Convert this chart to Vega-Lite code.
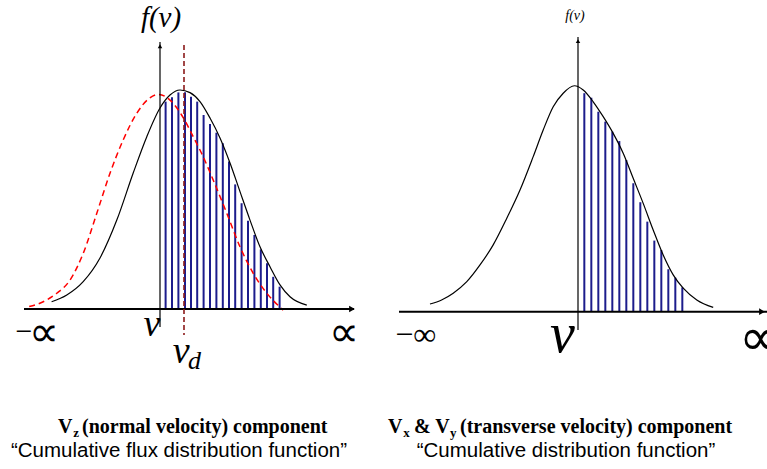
{
  "$schema": "https://vega.github.io/schema/vega-lite/v6.json",
  "background": "white",
  "padding": 0,
  "spacing": 0,
  "bounds": "flush",
  "config": {"view": {"stroke": null}},
  "datasets": {
    "L_curve": [
      {"v": -2.71, "f": 0.033}, {"v": -2.33, "f": 0.064}, {"v": -1.92, "f": 0.125}, {"v": -1.5, "f": 0.233},
      {"v": -1.08, "f": 0.406}, {"v": -0.67, "f": 0.621}, {"v": -0.33, "f": 0.787}, {"v": 0, "f": 0.918},
      {"v": 0.25, "f": 0.977}, {"v": 0.5, "f": 1.0}, {"v": 0.75, "f": 0.988}, {"v": 1.0, "f": 0.947},
      {"v": 1.25, "f": 0.872}, {"v": 1.5, "f": 0.781}, {"v": 1.75, "f": 0.667}, {"v": 2.0, "f": 0.536},
      {"v": 2.25, "f": 0.406}, {"v": 2.5, "f": 0.284}, {"v": 2.75, "f": 0.193}, {"v": 3.0, "f": 0.11},
      {"v": 3.25, "f": 0.056}, {"v": 3.67, "f": 0.018}
    ],
    "L_flux": [
      {"v": -3.27, "f": 0.011}, {"v": -2.92, "f": 0.033}, {"v": -2.58, "f": 0.072}, {"v": -2.25, "f": 0.132},
      {"v": -1.92, "f": 0.254}, {"v": -1.58, "f": 0.437}, {"v": -1.25, "f": 0.62}, {"v": -0.92, "f": 0.772},
      {"v": -0.58, "f": 0.894}, {"v": -0.29, "f": 0.959}, {"v": -0.04, "f": 0.98}, {"v": 0.25, "f": 0.954},
      {"v": 0.54, "f": 0.886}, {"v": 0.83, "f": 0.787}, {"v": 1.08, "f": 0.695}, {"v": 1.33, "f": 0.589},
      {"v": 1.67, "f": 0.437}, {"v": 2.0, "f": 0.284}, {"v": 2.33, "f": 0.163}, {"v": 2.67, "f": 0.072},
      {"v": 3.08, "f": -0.005}
    ],
    "L_bars": [
      {"v": 0.14, "f": 0.947}, {"v": 0.3, "f": 0.967}, {"v": 0.46, "f": 0.989}, {"v": 0.625, "f": 0.99},
      {"v": 0.775, "f": 0.969}, {"v": 0.93, "f": 0.947}, {"v": 1.09, "f": 0.886}, {"v": 1.25, "f": 0.845},
      {"v": 1.41, "f": 0.805}, {"v": 1.57, "f": 0.757}, {"v": 1.725, "f": 0.673}, {"v": 1.88, "f": 0.569},
      {"v": 2.04, "f": 0.483}, {"v": 2.2, "f": 0.403}, {"v": 2.36, "f": 0.338}, {"v": 2.52, "f": 0.272},
      {"v": 2.675, "f": 0.209}, {"v": 2.83, "f": 0.147}, {"v": 2.99, "f": 0.102}
    ],
    "L_haxis": [{"v": -3.4, "v2": 4.85, "f": 0}],
    "L_vaxis": [{"v": 0, "f": 1.219, "f2": -0.082}],
    "L_vd": [{"v": 0.6, "f": 1.205, "f2": -0.119}],
    "L_arrowR": [{"v": 4.8, "f": 0}],
    "L_arrowU": [{"v": 0, "f": 1.2}],
    "L_fv": [{"v": 0.025, "f": 1.331, "t": "f(v)"}],
    "L_minus": [{"v": -3.4, "f": -0.105, "t": "−"}],
    "L_prop": [{"v": -2.9, "f": -0.11, "t": "∝"}, {"v": 4.6, "f": -0.11, "t": "∝"}],
    "L_v": [{"v": -0.2, "f": -0.073, "t": "v"}, {"v": 0.53, "f": -0.196, "t": "v"}],
    "L_d": [{"v": 0.86, "f": -0.237, "t": "d"}],
    "L_cap1": [{"v": -2.55, "f": -0.539, "t": "V"}, {"v": -1.95, "f": -0.539, "t": "(normal velocity) component"}],
    "L_sub": [{"v": -2.17, "f": -0.568, "t": "z"}],
    "L_cap2": [{"v": 0.475, "f": -0.648, "t": "“Cumulative flux distribution function”"}],
    "R_curve": [
      {"v": -3.7, "f": 0.034}, {"v": -3.41, "f": 0.052}, {"v": -3.12, "f": 0.082}, {"v": -2.78, "f": 0.133},
      {"v": -2.45, "f": 0.207}, {"v": -2.12, "f": 0.296}, {"v": -1.78, "f": 0.414}, {"v": -1.45, "f": 0.539},
      {"v": -1.12, "f": 0.687}, {"v": -0.87, "f": 0.805}, {"v": -0.62, "f": 0.908}, {"v": -0.37, "f": 0.968},
      {"v": -0.09, "f": 1.001}, {"v": 0.13, "f": 0.982}, {"v": 0.38, "f": 0.93}, {"v": 0.63, "f": 0.864},
      {"v": 0.88, "f": 0.79}, {"v": 1.13, "f": 0.702}, {"v": 1.38, "f": 0.591}, {"v": 1.63, "f": 0.48},
      {"v": 1.88, "f": 0.362}, {"v": 2.13, "f": 0.251}, {"v": 2.38, "f": 0.163}, {"v": 2.63, "f": 0.104},
      {"v": 2.97, "f": 0.052}, {"v": 3.38, "f": 0.019}
    ],
    "R_bars": [
      {"v": 0.158, "f": 0.968}, {"v": 0.333, "f": 0.948}, {"v": 0.508, "f": 0.886}, {"v": 0.683, "f": 0.842},
      {"v": 0.858, "f": 0.798}, {"v": 1.033, "f": 0.756}, {"v": 1.208, "f": 0.672}, {"v": 1.383, "f": 0.569},
      {"v": 1.558, "f": 0.485}, {"v": 1.733, "f": 0.399}, {"v": 1.908, "f": 0.315}, {"v": 2.083, "f": 0.273},
      {"v": 2.258, "f": 0.188}, {"v": 2.433, "f": 0.151}, {"v": 2.608, "f": 0.108}
    ],
    "R_haxis": [{"v": -4.475, "v2": 4.725, "f": 0}],
    "R_vaxis": [{"v": 0, "f": 1.217, "f2": -0.081}],
    "R_arrowR": [{"v": 4.6, "f": 0}],
    "R_arrowU": [{"v": 0, "f": 1.199}],
    "R_fv": [{"v": -0.075, "f": 1.308, "t": "f(v)"}],
    "R_minf": [{"v": -4.06, "f": -0.105, "t": "−∞"}],
    "R_pinf": [{"v": 4.02, "f": -0.12, "t": "∝"}],
    "R_v": [{"v": -0.39, "f": -0.103, "t": "v"}],
    "R_cap1": [{"v": -4.75, "f": -0.511, "t": "V"}, {"v": -4.1, "f": -0.511, "t": "& V"}, {"v": -2.95, "f": -0.511, "t": "(transverse velocity) component"}],
    "R_sub": [{"v": -4.37, "f": -0.539, "t": "x"}, {"v": -3.2, "f": -0.539, "t": "y"}],
    "R_cap2": [{"v": -0.3, "f": -0.617, "t": "“Cumulative distribution function”"}]
  },
  "hconcat": [
    {
      "width": 383,
      "height": 469,
      "encoding": {
        "x": {"field": "v", "type": "quantitative", "scale": {"domain": [-4, 5.575], "nice": false, "zero": false}, "axis": null},
        "y": {"field": "f", "type": "quantitative", "scale": {"domain": [-0.7306, 1.411], "nice": false, "zero": false}, "axis": null}
      },
      "layer": [
        {"data": {"name": "L_bars"}, "mark": {"type": "rule", "color": "#1c1c8c", "strokeWidth": 2}, "encoding": {"y2": {"datum": 0}}},
        {"data": {"name": "L_curve"}, "mark": {"type": "line", "color": "black", "strokeWidth": 1.2, "interpolate": "monotone"}, "encoding": {}},
        {"data": {"name": "L_flux"}, "mark": {"type": "line", "color": "#ff0000", "strokeWidth": 1.5, "strokeDash": [6, 4], "interpolate": "monotone"}, "encoding": {}},
        {"data": {"name": "L_haxis"}, "mark": {"type": "rule", "color": "black", "strokeWidth": 2}, "encoding": {"x2": {"field": "v2"}}},
        {"data": {"name": "L_vaxis"}, "mark": {"type": "rule", "color": "black", "strokeWidth": 1.2}, "encoding": {"y2": {"field": "f2"}}},
        {"data": {"name": "L_vd"}, "mark": {"type": "rule", "color": "#8b1a1a", "strokeWidth": 1.6, "strokeDash": [5, 3]}, "encoding": {"y2": {"field": "f2"}}},
        {"data": {"name": "L_arrowR"}, "mark": {"type": "point", "shape": "triangle-right", "filled": true, "color": "black", "size": 45, "opacity": 1}, "encoding": {}},
        {"data": {"name": "L_arrowU"}, "mark": {"type": "point", "shape": "triangle-up", "filled": true, "color": "black", "size": 20, "opacity": 1}, "encoding": {}},
        {"data": {"name": "L_fv"}, "mark": {"type": "text", "font": "Liberation Serif", "fontStyle": "italic", "fontSize": 29, "baseline": "middle", "align": "center", "color": "black"}, "encoding": {"text": {"field": "t"}}},
        {"data": {"name": "L_minus"}, "mark": {"type": "text", "font": "Liberation Serif", "fontSize": 30, "baseline": "middle", "align": "center", "color": "black"}, "encoding": {"text": {"field": "t"}}},
        {"data": {"name": "L_prop"}, "mark": {"type": "text", "font": "DejaVu Sans", "fontWeight": 200, "fontSize": 42, "baseline": "middle", "align": "center", "color": "black"}, "encoding": {"text": {"field": "t"}}},
        {"data": {"name": "L_v"}, "mark": {"type": "text", "font": "Liberation Serif", "fontStyle": "italic", "fontSize": 38, "baseline": "middle", "align": "center", "color": "black"}, "encoding": {"text": {"field": "t"}}},
        {"data": {"name": "L_d"}, "mark": {"type": "text", "font": "Liberation Serif", "fontStyle": "italic", "fontSize": 26, "baseline": "middle", "align": "center", "color": "black"}, "encoding": {"text": {"field": "t"}}},
        {"data": {"name": "L_cap1"}, "mark": {"type": "text", "font": "Liberation Serif", "fontWeight": "bold", "fontSize": 20, "baseline": "middle", "align": "left", "color": "black"}, "encoding": {"text": {"field": "t"}}},
        {"data": {"name": "L_sub"}, "mark": {"type": "text", "font": "Liberation Serif", "fontWeight": "bold", "fontSize": 13, "baseline": "middle", "align": "left", "color": "black"}, "encoding": {"text": {"field": "t"}}},
        {"data": {"name": "L_cap2"}, "mark": {"type": "text", "font": "Liberation Sans", "fontSize": 20.5, "baseline": "middle", "align": "center", "color": "black"}, "encoding": {"text": {"field": "t"}}}
      ]
    },
    {
      "width": 384,
      "height": 469,
      "encoding": {
        "x": {"field": "v", "type": "quantitative", "scale": {"domain": [-4.875, 4.725], "nice": false, "zero": false}, "axis": null},
        "y": {"field": "f", "type": "quantitative", "scale": {"domain": [-0.697, 1.381], "nice": false, "zero": false}, "axis": null}
      },
      "layer": [
        {"data": {"name": "R_bars"}, "mark": {"type": "rule", "color": "#1c1c8c", "strokeWidth": 2}, "encoding": {"y2": {"datum": 0}}},
        {"data": {"name": "R_curve"}, "mark": {"type": "line", "color": "black", "strokeWidth": 1.2, "interpolate": "monotone"}, "encoding": {}},
        {"data": {"name": "R_haxis"}, "mark": {"type": "rule", "color": "black", "strokeWidth": 2}, "encoding": {"x2": {"field": "v2"}}},
        {"data": {"name": "R_vaxis"}, "mark": {"type": "rule", "color": "black", "strokeWidth": 1.2}, "encoding": {"y2": {"field": "f2"}}},
        {"data": {"name": "R_arrowR"}, "mark": {"type": "point", "shape": "triangle-right", "filled": true, "color": "black", "size": 45, "opacity": 1}, "encoding": {}},
        {"data": {"name": "R_arrowU"}, "mark": {"type": "point", "shape": "triangle-up", "filled": true, "color": "black", "size": 20, "opacity": 1}, "encoding": {}},
        {"data": {"name": "R_fv"}, "mark": {"type": "text", "font": "Liberation Serif", "fontStyle": "italic", "fontSize": 14, "baseline": "middle", "align": "center", "color": "black"}, "encoding": {"text": {"field": "t"}}},
        {"data": {"name": "R_minf"}, "mark": {"type": "text", "font": "Liberation Serif", "fontSize": 32, "baseline": "middle", "align": "center", "color": "black"}, "encoding": {"text": {"field": "t"}}},
        {"data": {"name": "R_pinf"}, "mark": {"type": "text", "font": "DejaVu Sans", "fontWeight": 200, "fontSize": 52, "baseline": "middle", "align": "left", "color": "black"}, "encoding": {"text": {"field": "t"}}},
        {"data": {"name": "R_v"}, "mark": {"type": "text", "font": "Liberation Serif", "fontStyle": "italic", "fontSize": 56, "baseline": "middle", "align": "center", "color": "black"}, "encoding": {"text": {"field": "t"}}},
        {"data": {"name": "R_cap1"}, "mark": {"type": "text", "font": "Liberation Serif", "fontWeight": "bold", "fontSize": 20, "baseline": "middle", "align": "left", "color": "black"}, "encoding": {"text": {"field": "t"}}},
        {"data": {"name": "R_sub"}, "mark": {"type": "text", "font": "Liberation Serif", "fontWeight": "bold", "fontSize": 13, "baseline": "middle", "align": "left", "color": "black"}, "encoding": {"text": {"field": "t"}}},
        {"data": {"name": "R_cap2"}, "mark": {"type": "text", "font": "Liberation Sans", "fontSize": 20.5, "baseline": "middle", "align": "center", "color": "black"}, "encoding": {"text": {"field": "t"}}}
      ]
    }
  ]
}
